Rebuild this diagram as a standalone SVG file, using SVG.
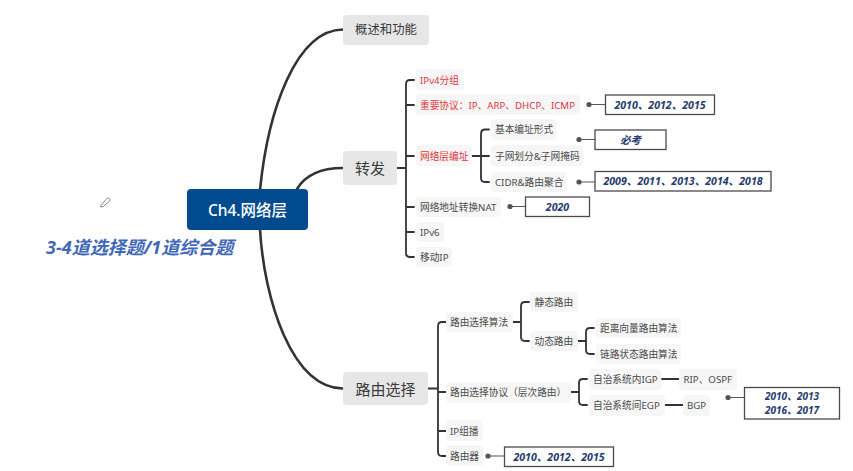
<svg xmlns="http://www.w3.org/2000/svg" width="853" height="471" viewBox="0 0 853 471">
<style>
text{font-family:"Noto Sans","Noto Sans CJK SC",sans-serif;dominant-baseline:central}
.l1 rect{fill:#e6e6e6}
.l2 rect{fill:#f6f6f6}
.l2 text{font-size:9.7px;fill:#4a4a4a}
.red text{fill:#e0383a}
.l1 text{fill:#3a3a3a;text-anchor:middle}
.yr rect{fill:#fff;stroke:#4a4a4a;stroke-width:1.3}
.yr text{font-size:10.6px;font-weight:700;font-style:italic;fill:#1f3a6e;text-anchor:middle}
.c path{fill:none;stroke:#333;stroke-width:1.8;stroke-linecap:round}
.c .m{stroke-width:2.6}
.t path{fill:none;stroke:#555;stroke-width:1}
.t circle{fill:#555}
</style>
<rect width="853" height="471" fill="#fff"/>
<g id="connectors">
<g class="c">
<path class="m" d="M260 190C268 110 296 30 343 29.500"/>
<path class="m" d="M260 229C264 300 292 388 343 388.500"/>
<path class="m" d="M297 189C306 174 322 168 343 168"/>
<path d="M397 168H406M414 80H410Q406 80 406 84V253Q406 257 410 257H414M406 105H414M406 156H414M406 207H414M406 232H414"/>
<path d="M472 156H481M489 129.500H485Q481 129.500 481 134V178Q481 182 485 182H489M481 156H489"/>
<path d="M428 388.500H438M446 322H442Q438 322 438 326V452Q438 456 442 456H446M438 392H446M438 431H446"/>
<path d="M513 322H521M529 302H525Q521 302 521 306V337Q521 341 525 341H529"/>
<path d="M578 341H586M594 328H590Q586 328 586 332V350Q586 354 590 354H594"/>
<path d="M571 392H579M587 379H583Q579 379 579 383V401Q579 405 583 405H587"/>
<path d="M662 379H679M665 405H683"/>
</g>
<g class="t">
<path d="M589 104.500H605"/><circle cx="589" cy="104.500" r="2.600"/>
<path d="M579 139.500H595"/><circle cx="579" cy="139.500" r="2.600"/>
<path d="M579 182H595"/><circle cx="579" cy="182" r="2.600"/>
<path d="M510 206.500H526"/><circle cx="510" cy="206.500" r="2.600"/>
<path d="M488 456H504"/><circle cx="488" cy="456" r="2.600"/>
<path d="M728 397.500H744"/><circle cx="728" cy="397.500" r="2.600"/>
</g>
</g>
<g id="root"><rect x="187" y="189" width="121" height="41" rx="4" fill="#004a8f"/><text x="247.500" y="209.500" font-size="15.500" font-weight="500" fill="#fff" text-anchor="middle">Ch4.网络层</text></g>
<g id="n-gaishu" class="l1"><rect x="343" y="15" width="86" height="30" rx="4"/><text x="386" y="29.500" font-size="12.400">概述和功能</text></g>
<g id="n-zhuanfa" class="l1"><rect x="343" y="151" width="54" height="34" rx="4"/><text x="370" y="168" font-size="15">转发</text></g>
<g id="n-luyou" class="l1"><rect x="343" y="372" width="85" height="33" rx="4"/><text x="385.500" y="388.500" font-size="15">路由选择</text></g>
<g id="n-ipv4" class="l2 red"><rect x="416" y="69" width="48" height="21" rx="4"/><text x="420" y="80">IPv4分组</text></g>
<g id="n-proto" class="l2 red"><rect x="416" y="94" width="164" height="21" rx="4"/><text x="420" y="105">重要协议：IP、ARP、DHCP、ICMP</text></g>
<g id="n-addr" class="l2 red"><rect x="416" y="145" width="56" height="21" rx="4"/><text x="420" y="156">网络层编址</text></g>
<g id="n-nat" class="l2"><rect x="416" y="197" width="85" height="20" rx="4"/><text x="420" y="207">网络地址转换NAT</text></g>
<g id="n-ipv6" class="l2"><rect x="416" y="222" width="28" height="20" rx="4"/><text x="420" y="232">IPv6</text></g>
<g id="n-mobile" class="l2"><rect x="416" y="247" width="36" height="20" rx="4"/><text x="420" y="257">移动IP</text></g>
<g id="n-basic" class="l2"><rect x="491" y="119" width="66" height="21" rx="4"/><text x="495" y="129.500">基本编址形式</text></g>
<g id="n-subnet" class="l2"><rect x="491" y="145" width="92" height="21" rx="4"/><text x="495" y="156">子网划分&amp;子网掩码</text></g>
<g id="n-cidr" class="l2"><rect x="491" y="172" width="76" height="20" rx="4"/><text x="495" y="182">CIDR&amp;路由聚合</text></g>
<g id="y-proto" class="yr"><rect x="605.500" y="95" width="109" height="19.500"/><text x="660" y="104.500">2010、2012、2015</text></g>
<g id="y-must" class="yr"><rect x="595" y="130" width="71" height="19.500"/><text x="630.500" y="139.500">必考</text></g>
<g id="y-cidr" class="yr"><rect x="595" y="171.500" width="176" height="19.500"/><text x="683" y="181">2009、2011、2013、2014、2018</text></g>
<g id="y-nat" class="yr"><rect x="525.500" y="197" width="64" height="19.500"/><text x="557.500" y="206.500">2020</text></g>
<g id="n-algo" class="l2"><rect x="446" y="312" width="67" height="20" rx="4"/><text x="450" y="322">路由选择算法</text></g>
<g id="n-static" class="l2"><rect x="530" y="292" width="48" height="20" rx="4"/><text x="534.500" y="302">静态路由</text></g>
<g id="n-dynamic" class="l2"><rect x="530" y="331" width="48" height="20" rx="4"/><text x="534.500" y="341">动态路由</text></g>
<g id="n-dv" class="l2"><rect x="596" y="318" width="85" height="20" rx="4"/><text x="600" y="328">距离向量路由算法</text></g>
<g id="n-ls" class="l2"><rect x="596" y="344" width="85" height="20" rx="4"/><text x="600" y="354">链路状态路由算法</text></g>
<g id="n-protocol" class="l2"><rect x="446" y="382" width="125" height="21" rx="4"/><text x="450" y="392">路由选择协议（层次路由）</text></g>
<g id="n-igp" class="l2"><rect x="589" y="369" width="72" height="21" rx="4"/><text x="593" y="379">自治系统内IGP</text></g>
<g id="n-egp" class="l2"><rect x="589" y="395" width="76" height="21" rx="4"/><text x="593" y="405">自治系统间EGP</text></g>
<g id="n-rip" class="l2"><rect x="679" y="369" width="58" height="21" rx="4"/><text x="683.500" y="379">RIP、OSPF</text></g>
<g id="n-bgp" class="l2"><rect x="683" y="395" width="27" height="21" rx="4"/><text x="687" y="405">BGP</text></g>
<g id="n-multicast" class="l2"><rect x="446" y="420" width="37" height="21" rx="4"/><text x="450" y="431">IP组播</text></g>
<g id="n-router" class="l2"><rect x="446" y="445" width="37" height="21" rx="4"/><text x="450" y="456">路由器</text></g>
<g id="y-router" class="yr"><rect x="504.500" y="447" width="109" height="19.500"/><text x="559" y="456.500">2010、2012、2015</text></g>
<g id="y-proto2" class="yr"><rect x="744.500" y="387.500" width="95" height="31.500"/><text font-size="10" style="font-size:10px"><tspan x="792" y="396.300" text-anchor="middle">2010、2013</tspan><tspan x="792" y="410.300" text-anchor="middle">2016、2017</tspan></text></g>
<text id="note" x="46" y="247" font-size="18" font-weight="700" font-style="italic" fill="#4167b8">3-4道选择题/1道综合题</text>
<path id="pencil" d="M101 205.500L107 198.500Q108.500 197.500 109.500 198.500Q110.500 199.500 109.500 201L103.500 206.500L100.500 207Z" fill="#fff" stroke="#666" stroke-width=".8"/>
</svg>
